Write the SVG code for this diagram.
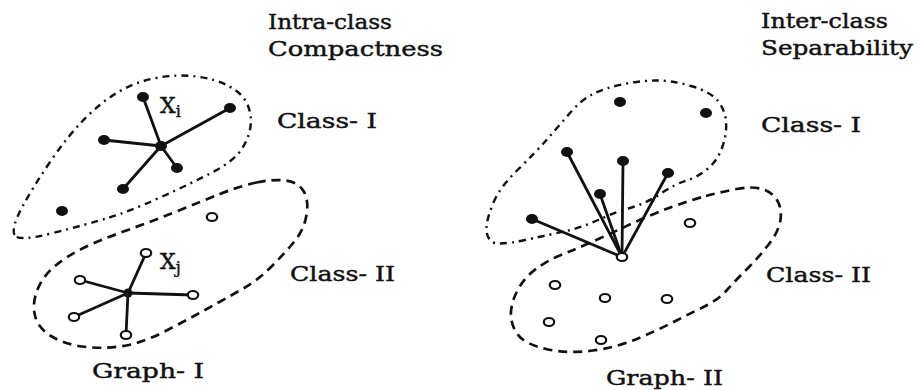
<svg xmlns="http://www.w3.org/2000/svg" width="918" height="390" viewBox="0 0 918 390">
<style>
.bg{fill:#fff}
.lbl{font-family:"DejaVu Serif","Liberation Serif",serif;font-size:21px;fill:#111;stroke:#111;stroke-width:0.45}
.x{font-size:22px}
.sub{font-size:16px}
.dd{fill:none;stroke:#111;stroke-width:2.4;stroke-dasharray:7 5 2 5;stroke-linecap:butt}
.ds{fill:none;stroke:#111;stroke-width:2.7;stroke-dasharray:9 6}
.edge{stroke:#111;stroke-width:2.8;stroke-linecap:round}
.f{fill:#111}
.o{fill:#fff;stroke:#111;stroke-width:2.2}
</style>
<rect class="bg" x="0" y="0" width="918" height="390"/>

<g id="boundaries">
<path id="g1-class1" class="dd" d="M14.5,235 Q11,228 22,207.5 Q33,187 50,162 Q67,137 83.5,120 Q100,103 117.5,92.5 Q135,82 156,78 Q177,74 196.5,76.5 Q216,79 229.5,86.5 Q243,94 247.5,104.5 Q252,115 250.5,126.5 Q249,138 241.5,149.5 Q234,161 212,172.5 Q190,184 159,198 Q128,212 108,218 Q88,224 53,233 Q18,242 14.5,235 Z"/>
<path id="g1-class2" class="ds" d="M256.5,182.5 Q273,179 285.5,180.5 Q298,182 303.5,191 Q309,200 306.5,215 Q304,230 294,242 Q284,254 271,267 Q258,280 245,287.5 Q232,295 209.5,307.5 Q187,320 163.5,332 Q140,344 120,346.5 Q100,349 82,346.5 Q64,344 51,336 Q38,328 35,315.5 Q32,303 37.5,289.5 Q43,276 55,266 Q67,256 83.5,248 Q100,240 125,231 Q150,222 175,212 Q200,202 220,194 Q240,186 256.5,182.5 Z"/>
<path id="g2-class1" class="dd" d="M493.5,202.5 Q500,187 517.5,170 Q535,153 546.5,140 Q558,127 569.5,113.5 Q581,100 593,94 Q605,88 621.5,84.5 Q638,81 654.5,80.5 Q671,80 691,86 Q711,92 718,101 Q725,110 726,121.5 Q727,133 722.5,146.5 Q718,160 708,168.5 Q698,177 686.5,180.5 Q675,184 661,193.5 Q647,203 630,208 Q613,213 598,220 Q583,227 568,230.5 Q553,234 525,240 Q497,246 491.5,241.5 Q486,237 486.5,227.5 Q487,218 493.5,202.5 Z"/>
<path id="g2-class2" class="ds" d="M706,196 Q721,192 736.5,189 Q752,186 762,189 Q772,192 777,200 Q782,208 780.5,219.5 Q779,231 769,244 Q759,257 747.5,268.5 Q736,280 727,290 Q718,300 704.5,306.5 Q691,313 674.5,321.5 Q658,330 638,338.5 Q618,347 593,350.5 Q568,354 546,349 Q524,344 517,333.5 Q510,323 511,311.5 Q512,300 518.5,288.5 Q525,277 536.5,268.5 Q548,260 564.5,253.5 Q581,247 599.5,238.5 Q618,230 636.5,221.5 Q655,213 673,206.5 Q691,200 706,196 Z"/>
</g>

<g id="connectors">
<line class="edge" x1="161" y1="146" x2="143" y2="97"/>
<line class="edge" x1="161" y1="146" x2="230" y2="108"/>
<line class="edge" x1="161" y1="146" x2="104" y2="140"/>
<line class="edge" x1="161" y1="146" x2="177" y2="168"/>
<line class="edge" x1="161" y1="146" x2="123" y2="189"/>
<line class="edge" x1="128" y1="293" x2="146" y2="253"/>
<line class="edge" x1="128" y1="293" x2="80" y2="280"/>
<line class="edge" x1="128" y1="293" x2="193" y2="295"/>
<line class="edge" x1="128" y1="293" x2="74" y2="317"/>
<line class="edge" x1="128" y1="293" x2="126" y2="335"/>
<line class="edge" x1="622" y1="257" x2="567" y2="152"/>
<line class="edge" x1="622" y1="257" x2="623" y2="161"/>
<line class="edge" x1="622" y1="257" x2="668" y2="173"/>
<line class="edge" x1="622" y1="257" x2="600" y2="194"/>
<line class="edge" x1="622" y1="257" x2="532" y2="219"/>
</g>

<g id="graph1-class1-nodes">
<g id="n-xi"><ellipse class="f" cx="143" cy="97" rx="6" ry="5"/></g>
<g id="n-a1"><ellipse class="f" cx="230" cy="108" rx="6" ry="5"/></g>
<g id="n-a2"><ellipse class="f" cx="104" cy="140" rx="6" ry="5"/></g>
<g id="n-a-center"><ellipse class="f" cx="161" cy="146" rx="6" ry="5"/></g>
<g id="n-a3"><ellipse class="f" cx="177" cy="168" rx="6" ry="5"/></g>
<g id="n-a4"><ellipse class="f" cx="123" cy="189" rx="6" ry="5"/></g>
<g id="n-a5"><ellipse class="f" cx="62" cy="211" rx="6" ry="5"/></g>
</g>
<g id="graph1-class2-nodes">
<g id="n-b0"><ellipse class="o" cx="212" cy="217" rx="5.2" ry="4"/></g>
<g id="n-xj"><ellipse class="o" cx="146" cy="253" rx="5.2" ry="4"/></g>
<g id="n-b1"><ellipse class="o" cx="80" cy="280" rx="5.2" ry="4"/></g>
<g id="n-b2"><ellipse class="o" cx="193" cy="295" rx="5.2" ry="4"/></g>
<g id="n-b3"><ellipse class="o" cx="74" cy="317" rx="5.2" ry="4"/></g>
<g id="n-b4"><ellipse class="o" cx="126" cy="335" rx="5.2" ry="4"/></g>
<g id="n-b-center"><circle class="f" cx="128" cy="293" r="4.5"/></g>
</g>

<g id="graph2-class1-nodes">
<g id="n-c1"><ellipse class="f" cx="620" cy="102" rx="6" ry="5"/></g>
<g id="n-c2"><ellipse class="f" cx="706" cy="113" rx="6" ry="5"/></g>
<g id="n-c3"><ellipse class="f" cx="567" cy="152" rx="6" ry="5"/></g>
<g id="n-c4"><ellipse class="f" cx="623" cy="161" rx="6" ry="5"/></g>
<g id="n-c5"><ellipse class="f" cx="668" cy="173" rx="6" ry="5"/></g>
<g id="n-c6"><ellipse class="f" cx="600" cy="194" rx="6" ry="5"/></g>
<g id="n-c7"><ellipse class="f" cx="532" cy="219" rx="6" ry="5"/></g>
</g>
<g id="graph2-class2-nodes">
<g id="n-hub"><ellipse class="o" cx="622" cy="257" rx="5.2" ry="4"/></g>
<g id="n-d1"><ellipse class="o" cx="690" cy="223" rx="5.2" ry="4"/></g>
<g id="n-d2"><ellipse class="o" cx="555" cy="285" rx="5.2" ry="4"/></g>
<g id="n-d3"><ellipse class="o" cx="605" cy="298" rx="5.2" ry="4"/></g>
<g id="n-d4"><ellipse class="o" cx="667" cy="299" rx="5.2" ry="4"/></g>
<g id="n-d5"><ellipse class="o" cx="549" cy="322" rx="5.2" ry="4"/></g>
<g id="n-d6"><ellipse class="o" cx="601" cy="340" rx="5.2" ry="4"/></g>
</g>

<g id="labels">
<text class="lbl" x="268" y="29" textLength="124" lengthAdjust="spacingAndGlyphs">Intra-class</text>
<text class="lbl" x="268" y="56" textLength="175" lengthAdjust="spacingAndGlyphs">Compactness</text>
<text class="lbl" x="277" y="128" textLength="100" lengthAdjust="spacingAndGlyphs">Class- I</text>
<text class="lbl" x="290" y="281" textLength="105" lengthAdjust="spacingAndGlyphs">Class- II</text>
<text class="lbl" x="92" y="378" textLength="112" lengthAdjust="spacingAndGlyphs">Graph- I</text>
<text class="lbl" x="761" y="28" textLength="127" lengthAdjust="spacingAndGlyphs">Inter-class</text>
<text class="lbl" x="761" y="55" textLength="152" lengthAdjust="spacingAndGlyphs">Separability</text>
<text class="lbl" x="761" y="132" textLength="100" lengthAdjust="spacingAndGlyphs">Class- I</text>
<text class="lbl" x="766" y="282" textLength="105" lengthAdjust="spacingAndGlyphs">Class- II</text>
<text class="lbl" x="606" y="385" textLength="117" lengthAdjust="spacingAndGlyphs">Graph- II</text>
<text class="lbl x" x="160" y="113">X<tspan class="sub" dy="4">i</tspan></text>
<text class="lbl x" x="160" y="269">X<tspan class="sub" dy="4">j</tspan></text>
</g>
</svg>
